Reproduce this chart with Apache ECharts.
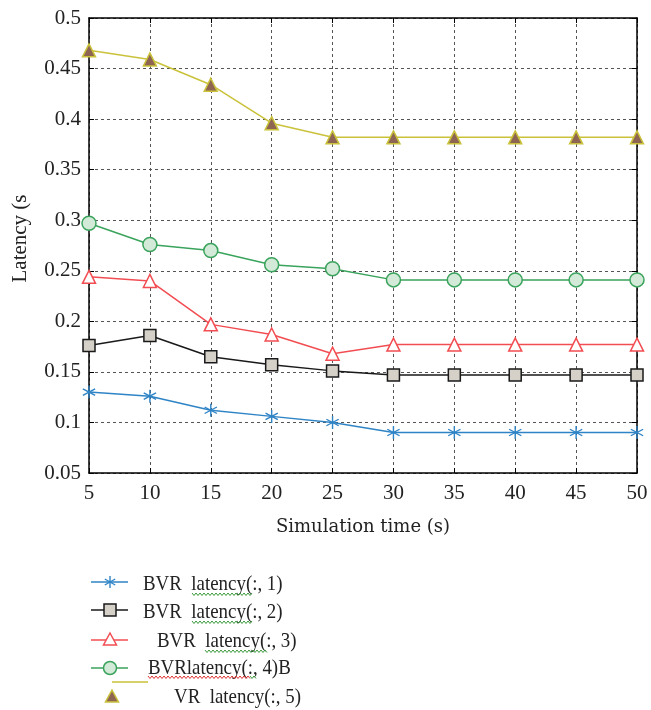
<!DOCTYPE html>
<html>
<head>
<meta charset="utf-8">
<script src="https://cdn.jsdelivr.net/npm/echarts@6/dist/echarts.min.js"></script>
<style>
  html, body { margin: 0; padding: 0; background: #fff; }
  #main { width: 651px; height: 710px; }
</style>
</head>
<body>
<div id="main"></div>
<script>
// simulation time (s)
var simTime = [5, 10, 15, 20, 25, 30, 35, 40, 45, 50];
// latency (s) per column
var latency1 = [0.130, 0.126, 0.112, 0.106, 0.100, 0.090, 0.090, 0.090, 0.090, 0.090];
var latency2 = [0.176, 0.186, 0.165, 0.157, 0.151, 0.147, 0.147, 0.147, 0.147, 0.147];
var latency3 = [0.244, 0.240, 0.197, 0.187, 0.168, 0.177, 0.177, 0.177, 0.177, 0.177];
var latency4 = [0.297, 0.276, 0.270, 0.256, 0.252, 0.241, 0.241, 0.241, 0.241, 0.241];
var latency5 = [0.468, 0.459, 0.434, 0.396, 0.382, 0.382, 0.382, 0.382, 0.382, 0.382];
var seriesNames = ['BVR  latency(:, 1)', 'BVR  latency(:, 2)', 'BVR  latency(:, 3)', 'BVRlatency(:, 4)B', 'VR  latency(:, 5)'];

var FONT = 'Liberation Serif';
var starPath = 'path://M-0.6,-6L0.6,-6L0.6,6L-0.6,6Z M-4.9,-3.52L5.5,2.48L4.9,3.52L-5.5,-2.48Z M-5.5,2.48L4.9,-3.52L5.5,-2.48L-4.9,3.52Z';

function pairs(ys) {
    var out = [];
    for (var i = 0; i < simTime.length; i++) out.push([simTime[i], ys[i]]);
    return out;
}

// spell-check style squiggle under legend text
function wave(x0, x1, y, color) {
    var pts = [];
    var k = 0;
    for (var x = x0; x <= x1; x += 2) {
        pts.push([x, y + (k % 2 ? 1.5 : -1)]);
        k++;
    }
    return {type: 'polyline', shape: {points: pts}, style: {stroke: color, lineWidth: 1, fill: null}, silent: true};
}

function legendText(x, y, txt) {
    return {type: 'text', x: x, y: y, scaleX: 0.9,
        style: {text: txt, font: '21px "' + FONT + '"', fill: '#222', textVerticalAlign: 'middle'}};
}

function legendLine(y, color, x0, x1) {
    return {type: 'line', shape: {x1: x0 || 91, y1: y, x2: x1 || 128, y2: y}, style: {stroke: color, lineWidth: 1.5}};
}

function starMark(cx, cy, color) {
    var segs = [[0, -6, 0, 6], [-5.2, -3, 5.2, 3], [-5.2, 3, 5.2, -3]];
    return {type: 'group', x: cx, y: cy, children: segs.map(function (s) {
        return {type: 'line', shape: {x1: s[0], y1: s[1], x2: s[2], y2: s[3]}, style: {stroke: color, lineWidth: 1.4}};
    })};
}

var graphics = [
    // row 1 : star
    legendLine(582, '#2f84c6'),
    starMark(110, 582, '#2f84c6'),
    legendText(143, 584, seriesNames[0]),
    wave(192, 253, 594, '#3a9a3a'),
    // row 2 : square
    legendLine(610, '#1a1a1a'),
    {type: 'rect', shape: {x: 104, y: 604, width: 12, height: 12}, style: {fill: '#d5d0c8', stroke: '#1a1a1a', lineWidth: 1.5}},
    legendText(143, 612, seriesNames[1]),
    wave(192, 253, 622, '#3a9a3a'),
    // row 3 : open triangle
    legendLine(640, '#f24d52'),
    {type: 'polygon', shape: {points: [[110, 633], [116.5, 645], [103.5, 645]]}, style: {fill: '#fff', stroke: '#f24d52', lineWidth: 1.5}},
    legendText(157, 641, seriesNames[2]),
    wave(205, 267, 651, '#3a9a3a'),
    // row 4 : circle
    legendLine(668, '#3aa35c'),
    {type: 'circle', shape: {cx: 110, cy: 668, r: 6.5}, style: {fill: '#d3ead9', stroke: '#3aa35c', lineWidth: 1.5}},
    legendText(148, 668, seriesNames[3]),
    wave(148, 250, 677, '#e03030'),
    wave(250, 256, 677, '#3a9a3a'),
    // row 5 : line sits above, triangle below
    legendLine(682, '#c9c23a', 112, 148),
    {type: 'polygon', shape: {points: [[112, 690], [118.5, 702], [105.5, 702]]}, style: {fill: '#8e6552', stroke: '#c9c23a', lineWidth: 1.5}},
    legendText(174, 697, seriesNames[4])
];

var chart = echarts.init(document.getElementById('main'));

var gridDash = {show: true, lineStyle: {color: '#555', type: [3, 3], width: 1}};
var axisFrame = {show: true, lineStyle: {color: '#000', width: 1.5}};

var option = {
    animation: false,
    backgroundColor: '#fff',
    grid: {left: 89, right: 14, top: 18, bottom: 237},
    xAxis: [{
        type: 'value', min: 5, max: 50, interval: 5,
        name: 'Simulation time (s)', nameLocation: 'middle', nameGap: 45,
        nameTextStyle: {fontFamily: 'DejaVu Serif', fontSize: 18, color: '#222'},
        axisLine: axisFrame,
        axisTick: {inside: true, length: 5, lineStyle: {color: '#000'}},
        axisLabel: {fontFamily: FONT, fontSize: 21, color: '#222', margin: 10},
        splitLine: gridDash
    }, {
        type: 'value', position: 'top', min: 5, max: 50, interval: 5,
        axisLine: axisFrame,
        axisTick: {inside: true, length: 5, lineStyle: {color: '#000'}},
        axisLabel: {show: false}, splitLine: {show: false}
    }],
    yAxis: [{
        type: 'value', min: 0.05, max: 0.5, interval: 0.05,
        name: 'Latency (s', nameLocation: 'middle', nameGap: 58,
        nameTextStyle: {fontFamily: FONT, fontSize: 21, color: '#222', padding: [0, 0, 0, 14]},
        axisLine: axisFrame,
        axisTick: {inside: true, length: 5, lineStyle: {color: '#000'}},
        axisLabel: {fontFamily: FONT, fontSize: 21, color: '#222', margin: 8,
            formatter: function (v) { return String(+v.toFixed(2)); }},
        splitLine: gridDash
    }, {
        type: 'value', position: 'right', min: 0.05, max: 0.5, interval: 0.05,
        axisLine: axisFrame,
        axisTick: {inside: true, length: 5, lineStyle: {color: '#000'}},
        axisLabel: {show: false}, splitLine: {show: false}
    }],
    graphic: graphics,
    series: [{
        name: seriesNames[0], type: 'line', data: pairs(latency1),
        symbol: starPath, symbolSize: 13,
        lineStyle: {color: '#2f84c6', width: 1.5},
        itemStyle: {color: '#2f84c6'}
    }, {
        name: seriesNames[1], type: 'line', data: pairs(latency2),
        symbol: 'rect', symbolSize: 12,
        lineStyle: {color: '#1a1a1a', width: 1.5},
        itemStyle: {color: '#d5d0c8', borderColor: '#1a1a1a', borderWidth: 1.5}
    }, {
        name: seriesNames[2], type: 'line', data: pairs(latency3),
        symbol: 'triangle', symbolSize: 13,
        lineStyle: {color: '#f24d52', width: 1.5},
        itemStyle: {color: '#fff', borderColor: '#f24d52', borderWidth: 1.5}
    }, {
        name: seriesNames[3], type: 'line', data: pairs(latency4),
        symbol: 'circle', symbolSize: 14,
        lineStyle: {color: '#3aa35c', width: 1.5},
        itemStyle: {color: '#d3ead9', borderColor: '#3aa35c', borderWidth: 1.5}
    }, {
        name: seriesNames[4], type: 'line', data: pairs(latency5),
        symbol: 'triangle', symbolSize: 13,
        lineStyle: {color: '#c9c23a', width: 1.5},
        itemStyle: {color: '#8e6552', borderColor: '#c9c23a', borderWidth: 1.5}
    }]
};

chart.setOption(option);
</script>
</body>
</html>
